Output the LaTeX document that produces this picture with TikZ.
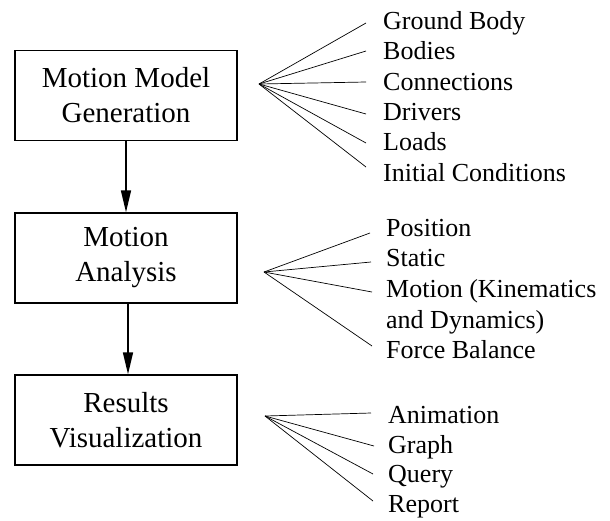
\documentclass[tikz,border=0pt]{standalone}
\usepackage{fontspec}
\setmainfont{Liberation Serif}
\usetikzlibrary{arrows.meta}
\begin{document}
\begin{tikzpicture}[x=1pt,y=-1pt,
 box/.style={draw,line width=1.4pt,minimum width=222pt,minimum height=90pt,inner sep=0pt,align=center,font=\fontsize{29}{35}\selectfont},
 item/.style={anchor=base west,inner sep=0pt,font=\fontsize{26}{30}\selectfont},
 flow/.style={line width=1.6pt,-{Triangle[length=22pt,width=10pt]}},
 fan/.style={line width=0.7pt}]
\useasboundingbox (0,0) rectangle (610,520);
% boxes
\node[box] (b1) at (126,95.5) {Motion Model\\Generation};
\node[box] (b2) at (126,258) {Motion\\Analysis};
\node[box] (b3) at (126,420) {Results\\Visualization};
\draw[flow] (b1.south) -- (b2.north);
\draw[flow] ([xshift=2pt]b2.south) -- ([xshift=2pt]b3.north);
% list 1
\node[item] (l11) at (383,29.5) {Ground Body};
\node[item] (l12) at (383,59.5) {Bodies};
\node[item] (l13) at (383,90) {Connections};
\node[item] (l14) at (383,120) {Drivers};
\node[item] (l15) at (383,150.5) {Loads};
\node[item] (l16) at (383,181) {Initial Conditions};
\coordinate (f1) at (259,84);
\coordinate (e11) at (366,23);
\coordinate (e12) at (366,51);
\coordinate (e13) at (366,82);
\coordinate (e14) at (366,114);
\coordinate (e15) at (366,143);
\coordinate (e16) at (366,167);
\foreach \e in {e11,e12,e13,e14,e15,e16} \draw[fan] (f1) -- (\e);
% list 2
\node[item] (l21) at (386,236) {Position};
\node[item] (l22) at (386,266.5) {Static};
\node[item] (l23) at (386,297) {Motion (Kinematics};
\node[item] (l24) at (386,328) {and Dynamics)};
\node[item] (l25) at (386,358.5) {Force Balance};
\coordinate (f2) at (264,272);
\coordinate (e21) at (370,233);
\coordinate (e22) at (371,262);
\coordinate (e23) at (372,292);
\coordinate (e24) at (372,346);
\foreach \e in {e21,e22,e23,e24} \draw[fan] (f2) -- (\e);
% list 3
\node[item] (l31) at (388,423) {Animation};
\node[item] (l32) at (388,453) {Graph};
\node[item] (l33) at (388,482.5) {Query};
\node[item] (l34) at (388,512.5) {Report};
\coordinate (f3) at (265,416);
\coordinate (e31) at (371,413);
\coordinate (e32) at (374,446);
\coordinate (e33) at (373,474);
\coordinate (e34) at (373,501);
\foreach \e in {e31,e32,e33,e34} \draw[fan] (f3) -- (\e);
\end{tikzpicture}
\end{document}
